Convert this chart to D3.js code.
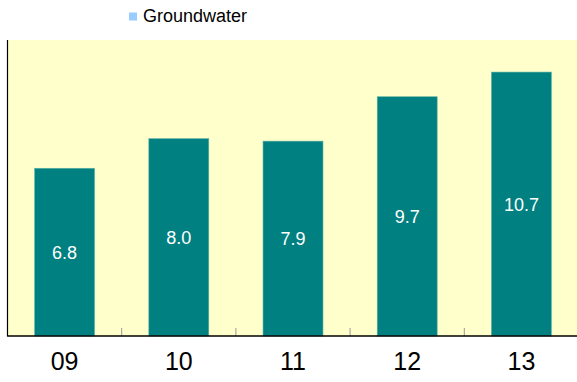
<!DOCTYPE html>
<html>
<head>
<meta charset="utf-8">
<script src="https://cdn.jsdelivr.net/npm/d3@7"></script>
<style>
  html, body { margin: 0; padding: 0; background: #fff; }
  svg { display: block; font-family: "Liberation Sans", Arial, sans-serif; }
</style>
</head>
<body>
<svg id="chart" width="577" height="382"></svg>
<script>
// Groundwater by year
const years = ["09", "10", "11", "12", "13"];
const groundwater = [6.8, 8.0, 7.9, 9.7, 10.7];
const seriesName = "Groundwater";

const svg = d3.select("#chart");
const margin = { left: 7.5, right: -1.5, top: 40, bottom: 46 };
const W = 577, H = 382;

const x = d3.scaleBand()
  .domain(years)
  .range([margin.left, W - margin.right])
  .paddingInner(0.475)
  .paddingOuter(0.2375);

const y = d3.scaleLinear().domain([0, 12]).range([H - margin.bottom, margin.top]);

// plot background
svg.append("rect")
  .attr("x", margin.left).attr("y", margin.top)
  .attr("width", W - margin.left - margin.right)
  .attr("height", H - margin.top - margin.bottom)
  .attr("fill", "#FFFFCC");

// bars
svg.selectAll("rect.bar")
  .data(groundwater)
  .join("rect")
  .attr("class", "bar")
  .attr("x", (d, i) => x(years[i]))
  .attr("y", d => y(d))
  .attr("width", x.bandwidth())
  .attr("height", d => y(0) - y(d))
  .attr("fill", "#008080")
  .attr("stroke", "#5fb3a8")
  .attr("stroke-width", 0.6);

// value labels at bar middle
svg.selectAll("text.val")
  .data(groundwater)
  .join("text")
  .attr("class", "val")
  .attr("x", (d, i) => x(years[i]) + x.bandwidth() / 2)
  .attr("y", d => (y(d) + y(0)) / 2)
  .attr("dy", "0.36em")
  .attr("text-anchor", "middle")
  .attr("fill", "#fff")
  .attr("font-size", 18)
  .text(d => d.toFixed(1));

// category boundary ticks (inside, gray)
const step = x.step();
const bounds = d3.range(1, years.length).map(i => margin.left + step * i);
svg.selectAll("line.tick")
  .data(bounds)
  .join("line")
  .attr("class", "tick")
  .attr("x1", d => d).attr("x2", d => d)
  .attr("y1", y(0) - 8).attr("y2", y(0))
  .attr("stroke", "#999")
  .attr("stroke-width", 1);

// axes lines
svg.append("line")
  .attr("x1", margin.left).attr("x2", margin.left)
  .attr("y1", margin.top).attr("y2", y(0) + 0.5)
  .attr("stroke", "#000").attr("stroke-width", 1.2);
svg.append("line")
  .attr("x1", margin.left).attr("x2", W)
  .attr("y1", y(0)).attr("y2", y(0))
  .attr("stroke", "#000").attr("stroke-width", 1.5);

// category labels
svg.selectAll("text.cat")
  .data(years)
  .join("text")
  .attr("class", "cat")
  .attr("x", d => x(d) + x.bandwidth() / 2)
  .attr("y", 370)
  .attr("text-anchor", "middle")
  .attr("fill", "#000")
  .attr("font-size", 25)
  .text(d => d);

// legend
const lg = svg.append("g").attr("transform", "translate(129,12.5)");
lg.append("rect").attr("width", 8).attr("height", 8).attr("fill", "#99CCFF");
lg.append("text")
  .attr("x", 14).attr("y", 9.5)
  .attr("font-size", 18)
  .attr("fill", "#000")
  .text(seriesName);
</script>
</body>
</html>
